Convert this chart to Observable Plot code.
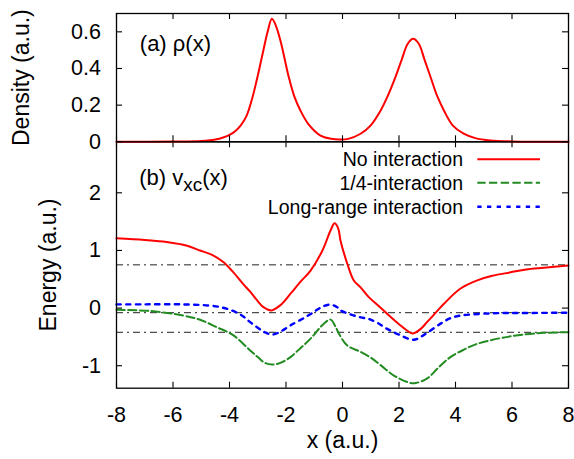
<!DOCTYPE html>
<html><head><meta charset="utf-8">
<script src="https://cdn.jsdelivr.net/npm/d3@7"></script>
<script src="https://cdn.jsdelivr.net/npm/@observablehq/plot@0.6"></script>
<style>
body{margin:0;background:#fff;}
#wrap{position:relative;width:574px;height:459px;}
#wrap svg{position:absolute;left:0;}
</style></head><body><div id="wrap"></div>
<script>
// ---- tick values ----
const xTicks = [-8,-6,-4,-2,0,2,4,6,8];
const densityTicks = [0,0.2,0.4,0.6];
const energyTicks = [-1,0,1,2];

// ---- (a) density rho(x) ----
const densityX = [-8,-6,-5,-4.5,-4.2,-4.0,-3.8,-3.6,-3.4,-3.2,-3.0,-2.8,-2.65,-2.5,-2.35,-2.17,-1.9,-1.7,-1.49,-1.2,-0.78,-0.4,-0.1,0.2,0.64,1.0,1.35,1.6,1.87,2.1,2.31,2.5,2.7,2.9,3.12,3.35,3.59,3.9,4.29,4.7,5.24,6,8];
const densityY = [0,0.001,0.004,0.012,0.025,0.038,0.058,0.09,0.14,0.235,0.36,0.5,0.6,0.671,0.63,0.535,0.352,0.245,0.171,0.095,0.034,0.017,0.013,0.016,0.044,0.09,0.171,0.25,0.352,0.45,0.535,0.562,0.535,0.45,0.352,0.25,0.171,0.09,0.044,0.02,0.007,0.002,0];

// ---- (b) v_xc(x) ----
const noIntX = [-8,-7,-6.23,-5.5,-5.05,-4.6,-4.22,-3.9,-3.52,-3.26,-3.0,-2.81,-2.52,-2.2,-1.84,-1.5,-1.13,-0.71,-0.42,-0.28,-0.15,-0.07,0.17,0.4,0.64,0.93,1.25,1.58,2.0,2.41,2.5,2.75,3.0,3.3,3.6,4.18,4.77,5.3,5.95,6.5,7.13,8];
const noIntY = [1.21,1.18,1.145,1.08,1.0,0.92,0.8,0.64,0.42,0.28,0.12,0.02,-0.04,0.05,0.25,0.45,0.65,1.0,1.35,1.47,1.38,1.17,0.77,0.48,0.36,0.19,0.05,-0.1,-0.28,-0.43,-0.44,-0.37,-0.24,-0.08,0.08,0.34,0.48,0.56,0.62,0.67,0.7,0.74];

const quarterX = [-8,-6.82,-5.64,-5.0,-4.46,-3.87,-3.28,-3.0,-2.75,-2.49,-2.2,-1.84,-1.5,-1.13,-0.66,-0.42,-0.25,-0.13,0.17,0.64,1.0,1.35,1.82,2.41,2.6,3.0,3.4,3.82,4.3,4.77,5.95,7.13,8];
const quarterY = [-0.03,-0.05,-0.13,-0.21,-0.33,-0.47,-0.73,-0.85,-0.95,-0.98,-0.95,-0.85,-0.7,-0.53,-0.27,-0.2,-0.32,-0.44,-0.65,-0.76,-0.86,-0.99,-1.17,-1.3,-1.3,-1.22,-1.03,-0.85,-0.72,-0.62,-0.49,-0.43,-0.42];

const longX = [-8,-7,-5.66,-4.48,-3.87,-3.5,-3.28,-3.0,-2.75,-2.49,-2.2,-1.84,-1.25,-0.9,-0.66,-0.42,-0.2,-0.07,0.28,0.64,0.93,1.25,1.58,2.0,2.52,2.9,3.47,3.8,4.18,5.36,6.5,8];
const longY = [0.064,0.065,0.064,0.03,-0.05,-0.15,-0.24,-0.34,-0.42,-0.46,-0.41,-0.3,-0.14,-0.03,0.035,0.06,0.02,-0.04,-0.11,-0.16,-0.19,-0.26,-0.36,-0.46,-0.55,-0.46,-0.27,-0.18,-0.13,-0.09,-0.085,-0.08];

const refLines = [0.75, -0.08, -0.42];

const seriesNames = ["No interaction", "1/4-interaction", "Long-range interaction"];
const seriesColors = ["#ff0000", "#228b22", "#0000ff"];
const seriesDash = [null, "8.3,3.4", "4.3,5.4"];
const seriesWidth = [2, 2, 2.4];

// ---- layout ----
const FONT = "'Liberation Sans', Arial, Helvetica, sans-serif";
const W = 574, ML = 116, MR = 6, FW = W - ML - MR, TL = 6;
const toRows = (xs, ys) => xs.map((x, i) => ({x, y: ys[i]}));

function frameTicks(fh, yTicks) {
  const s = {stroke: "black", strokeWidth: 1.1};
  return [
    Plot.tickX(xTicks, {x: d => d, insetTop: fh - TL, ...s}),
    Plot.tickX(xTicks, {x: d => d, insetBottom: fh - TL, ...s}),
    Plot.tickY(yTicks, {y: d => d, insetRight: FW - TL, ...s}),
    Plot.tickY(yTicks, {y: d => d, insetLeft: FW - TL, ...s})
  ];
}

// top panel
const topH = 150, topMT = 13, topMB = 8.7, topFH = topH - topMT - topMB;
const topPlot = Plot.plot({
  width: W, height: topH, marginLeft: ML, marginRight: MR, marginTop: topMT, marginBottom: topMB,
  style: {background: "transparent", fontFamily: FONT, overflow: "visible"},
  x: {domain: [-8, 8], axis: null},
  y: {domain: [0, 0.7], axis: null},
  marks: [
    Plot.line(toRows(densityX, densityY), {x: "x", y: "y", stroke: seriesColors[0], strokeWidth: 2, curve: "catmull-rom"}),
    ...frameTicks(topFH, densityTicks),
    Plot.axisY(densityTicks, {anchor: "left", label: null, tickSize: 0, tickPadding: 15.5, fontSize: 21.5, tickFormat: d => String(d), fill: "black"}),
    Plot.frame({stroke: "black", strokeWidth: 1.3}),
    Plot.text(["(a) ρ(x)"], {text: d => d, frameAnchor: "top-left", dx: 23.3, dy: 22, textAnchor: "start", fontSize: 22, fill: "black"}),
    Plot.text(["Density (a.u.)"], {text: d => d, frameAnchor: "left", dx: 21 - ML, rotate: -90, textAnchor: "middle", fontSize: 23, fill: "black"})
  ]
});
topPlot.style.top = "0px";

// bottom panel
const botTop = 130, botH = 329, botMT = 11.3, botMB = 71.3, botFH = botH - botMT - botMB;
const botPlot = Plot.plot({
  width: W, height: botH, marginLeft: ML, marginRight: MR, marginTop: botMT, marginBottom: botMB,
  style: {background: "transparent", fontFamily: FONT, overflow: "visible"},
  x: {domain: [-8, 8], axis: null},
  y: {domain: [-1.39, 2.885], axis: null},
  marks: [
    Plot.ruleY(refLines, {y: d => d, stroke: "#222", strokeWidth: 1, strokeDasharray: "7,4,2,4"}),
    Plot.line(toRows(noIntX, noIntY), {x: "x", y: "y", stroke: seriesColors[0], strokeWidth: seriesWidth[0], curve: "catmull-rom"}),
    Plot.line(toRows(quarterX, quarterY), {x: "x", y: "y", stroke: seriesColors[1], strokeWidth: seriesWidth[1], strokeDasharray: seriesDash[1], curve: "catmull-rom"}),
    Plot.line(toRows(longX, longY), {x: "x", y: "y", stroke: seriesColors[2], strokeWidth: seriesWidth[2], strokeDasharray: seriesDash[2], curve: "catmull-rom"}),
    ...frameTicks(botFH, energyTicks),
    Plot.axisY(energyTicks, {anchor: "left", label: null, tickSize: 0, tickPadding: 15.5, fontSize: 21.5, tickFormat: d => String(d), fill: "black"}),
    Plot.axisX(xTicks, {anchor: "bottom", label: null, tickSize: 0, tickPadding: 19, fontSize: 21.5, tickFormat: d => String(d), fill: "black"}),
    Plot.frame({stroke: "black", strokeWidth: 1.3}),
    Plot.text(["Energy (a.u.)"], {text: d => d, frameAnchor: "left", dx: 48.6 - ML, rotate: -90, textAnchor: "middle", fontSize: 23, fill: "black"}),
    Plot.text(["x (a.u.)"], {text: d => d, frameAnchor: "bottom", dy: 60, textAnchor: "middle", fontSize: 23, fill: "black"})
  ]
});
botPlot.style.top = botTop + "px";

// annotation (b) with subscript
const bsvg = d3.select(botPlot);
const ann = bsvg.append("text").attr("x", 139.3).attr("y", 55).attr("text-anchor", "start")
  .attr("font-size", 22).attr("font-family", FONT).attr("fill", "black");
ann.append("tspan").text("(b) v");
ann.append("tspan").attr("dy", 6).attr("font-size", 19).text("xc");
ann.append("tspan").attr("dy", -6).attr("font-size", 22).text("(x)");

// legend
const lg = bsvg.append("g").attr("font-family", FONT).attr("font-size", 19.5);
const rowY = [29.3, 52.7, 76.7];
seriesNames.forEach((name, i) => {
  lg.append("text").attr("x", 463).attr("y", rowY[i]).attr("dy", "0.35em").attr("text-anchor", "end").attr("fill", "black").text(name);
  const ln = lg.append("line").attr("x1", 477.3).attr("x2", 540).attr("y1", rowY[i]).attr("y2", rowY[i])
    .attr("stroke", seriesColors[i]).attr("stroke-width", seriesWidth[i]);
  if (seriesDash[i]) ln.attr("stroke-dasharray", seriesDash[i]);
});

const wrap = document.getElementById("wrap");
wrap.appendChild(botPlot);
wrap.appendChild(topPlot);
</script></body></html>
